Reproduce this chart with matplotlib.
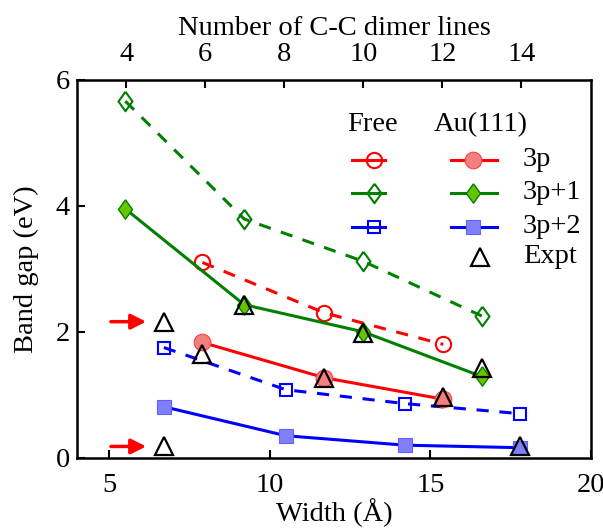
import numpy as np
import matplotlib
matplotlib.use('Agg')
import matplotlib.pyplot as plt
from matplotlib.lines import Line2D

plt.rcParams['font.family'] = ['Liberation Serif', 'DejaVu Serif']

# widths (Angstrom) for each family
w_3p = [7.9, 11.7, 15.4]
w_3p1 = [5.5, 9.2, 12.9, 16.6]
w_3p2 = [6.7, 10.5, 14.2, 17.8]

# band gaps (eV)
free_3p = [3.10, 2.30, 1.80]
free_3p1 = [5.66, 3.79, 3.12, 2.25]
free_3p2 = [1.75, 1.08, 0.86, 0.70]
au_3p = [1.83, 1.27, 0.93]
au_3p1 = [3.95, 2.43, 2.00, 1.29]
au_3p2 = [0.81, 0.35, 0.20, 0.16]

# experiment
expt_w = [6.7, 6.7, 7.9, 9.2, 11.7, 12.9, 15.4, 16.6, 17.8]
expt_gap = [2.16, 0.18, 1.65, 2.43, 1.27, 1.98, 0.97, 1.43, 0.19]
# the two expt points marked with red arrows
arrow_gap = [2.16, 0.18]

x_ticks = [5, 10, 15, 20]
y_ticks = [0, 2, 4, 6]
top_ticks = [4, 6, 8, 10, 12, 14]

# dimer lines N -> width
def n2w(n):
    return 1.23 * np.asarray(n) + 0.61

def w2n(w):
    return (np.asarray(w) - 0.61) / 1.23

FS = 20.5
red, green, blue = '#ff0000', '#008000', '#0000ff'
red_f, green_f, blue_f = '#f28080', '#66c400', '#8080ff'
diamond = [(0, 1), (0.72, 0), (0, -1), (-0.72, 0), (0, 1)]

styles = {
    'free_3p': dict(color=red, ls=(0, (4, 3.5)), marker='o', ms=11, mfc='none', mec=red, mew=1.5),
    'free_3p1': dict(color=green, ls=(0, (4, 3.5)), marker=diamond, ms=14, mfc='none', mec=green, mew=1.5),
    'free_3p2': dict(color=blue, ls=(0, (4, 3.5)), marker='s', ms=9, mfc='none', mec=blue, mew=1.5),
    'au_3p': dict(color=red, ls='-', marker='o', ms=12, mfc=red_f, mec='#ff4040', mew=0.8),
    'au_3p1': dict(color=green, ls='-', marker=diamond, ms=14, mfc=green_f, mec=green, mew=1),
    'au_3p2': dict(color=blue, ls='-', marker='s', ms=9.5, mfc=blue_f, mec='#6060ff', mew=0.8),
}
expt_style = dict(ls='none', marker='^', ms=13, mfc='none', mec='black', mew=1.6)

fig = plt.figure(figsize=(6.03, 5.28), dpi=100)
ax = fig.add_axes([0.128, 0.133, 0.852, 0.716])

ax.plot(w_3p, free_3p, lw=2.2, **styles['free_3p'])
ax.plot(w_3p1, free_3p1, lw=2.2, **styles['free_3p1'])
ax.plot(w_3p2, free_3p2, lw=2.2, **styles['free_3p2'])
ax.plot(w_3p, au_3p, lw=2.2, **styles['au_3p'])
ax.plot(w_3p1, au_3p1, lw=2.2, **styles['au_3p1'])
ax.plot(w_3p2, au_3p2, lw=2.2, **styles['au_3p2'])
ax.plot(expt_w, expt_gap, zorder=5, **expt_style)

for g in arrow_gap:
    ax.annotate('', xy=(6.15, g), xytext=(5.05, g),
                arrowprops=dict(arrowstyle='-|>,head_length=0.9,head_width=0.45',
                                color='red', lw=2.5, shrinkA=0, shrinkB=0))

ax.set_xlim(4, 20)
ax.set_ylim(0, 6)
ax.set_xticks(x_ticks)
ax.set_yticks(y_ticks)
ax.set_xlabel('Width (Å)', fontsize=FS, labelpad=0)
ax.set_ylabel('Band gap (eV)', fontsize=FS, labelpad=12)
ax.tick_params(axis='x', direction='in', length=6, width=1.5, labelsize=FS, pad=11)
ax.tick_params(axis='y', direction='in', length=6, width=1.5, labelsize=FS, pad=5)
for s in ax.spines.values():
    s.set_linewidth(1.8)

top = ax.secondary_xaxis('top', functions=(w2n, n2w))
top.set_xticks(top_ticks)
top.tick_params(direction='in', length=6, width=1.5, labelsize=FS, pad=9)
top.set_xlabel('Number of C-C dimer lines', fontsize=FS, labelpad=5)

# hand-made legend
tr = ax.transAxes
ax.text(0.574, 0.881, 'Free', transform=tr, fontsize=FS, ha='center', va='center')
ax.text(0.786, 0.881, 'Au(111)', transform=tr, fontsize=FS, ha='center', va='center')
rows = [0.788, 0.701, 0.611]
labels = ['3p', '3p+1', '3p+2']
for key, y, lab in zip(['3p', '3p1', '3p2'], rows, labels):
    fs = dict(styles['free_' + key])
    fm = dict(marker=fs.pop('marker'), ms=fs.pop('ms'), mfc=fs.pop('mfc'), mec=fs.pop('mec'), mew=fs.pop('mew'))
    ax.add_line(Line2D([0.535, 0.599], [y, y], transform=tr, lw=2.2, color=fs['color'], clip_on=False))
    ax.add_line(Line2D([0.578], [y], transform=tr, ls='none', clip_on=False, **fm))
    au = dict(styles['au_' + key])
    au.pop('ls')
    ax.add_line(Line2D([0.728, 0.770, 0.817], [y, y, y], transform=tr, lw=2.2, clip_on=False,
                       markevery=[1], **au))
    ax.text(0.868, y, lab, transform=tr, fontsize=FS, ha='left', va='center')
ax.add_line(Line2D([0.784], [0.532], transform=tr, clip_on=False, **expt_style))
ax.text(0.868, 0.532, 'Expt', transform=tr, fontsize=FS, ha='left', va='center')

fig.savefig('out.png', dpi=100)
